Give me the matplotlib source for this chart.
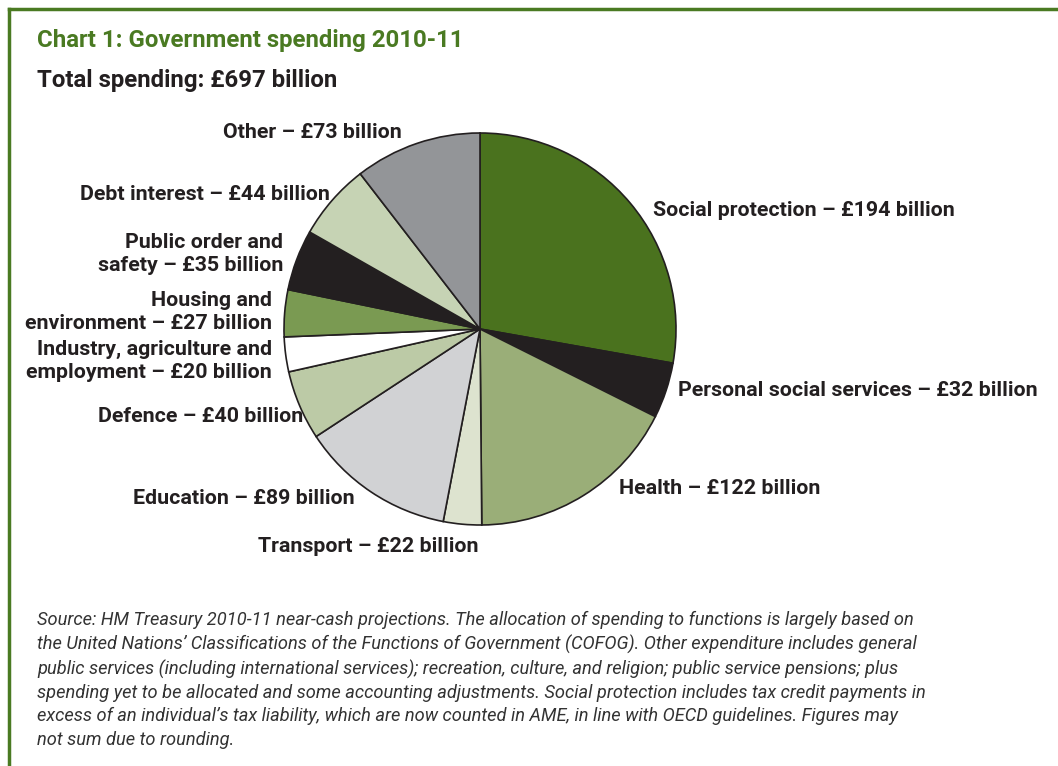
import matplotlib.pyplot as plt
from matplotlib.lines import Line2D

# spending by function, £ billion (clockwise from 12 o'clock)
functions = ['Social protection', 'Personal social services', 'Health', 'Transport',
             'Education', 'Defence', 'Industry, agriculture and employment',
             'Housing and environment', 'Public order and safety', 'Debt interest', 'Other']
spending = [194, 32, 122, 22, 89, 40, 20, 27, 35, 44, 73]
colours = ['#4a721e', '#231f20', '#9aae78', '#dde3cf', '#d1d2d4', '#bccaa6',
           '#ffffff', '#7a9a52', '#231f20', '#c6d3b4', '#939598']
label_text = ['Social protection – £194 billion',
              'Personal social services – £32 billion',
              'Health – £122 billion',
              'Transport – £22 billion',
              'Education – £89 billion',
              'Defence – £40 billion',
              'Industry, agriculture and\nemployment – £20 billion',
              'Housing and\nenvironment – £27 billion',
              'Public order and\nsafety – £35 billion',
              'Debt interest – £44 billion',
              'Other – £73 billion']

green = '#4a7a22'
W, H = 1058, 766
fam = ['Roboto', 'DejaVu Sans']

fig = plt.figure(figsize=(W / 100, H / 100), dpi=100)
ax = fig.add_axes([0, 0, 1, 1])

ax.pie(spending, colors=colours, startangle=90, counterclock=False,
       center=(480, H - 329), radius=196,
       wedgeprops=dict(edgecolor='#231f20', linewidth=1.2))
ax.set_xlim(0, W)
ax.set_ylim(0, H)
ax.set_aspect('auto')
ax.axis('off')

# frame (top and left only)
fig.add_artist(Line2D([9 / W, 1], [1 - 9 / H, 1 - 9 / H], color=green, lw=2.5))
fig.add_artist(Line2D([9 / W, 9 / W], [0, 1 - 9 / H], color=green, lw=2.5))

fig.text(37 / W, 1 - 40 / H, 'Chart 1: Government spending 2010-11', color=green,
         fontsize=17.3, fontweight='bold', family=fam, va='center')
fig.text(37 / W, 1 - 80 / H, 'Total spending: £697 billion', color='#231f20',
         fontsize=17.3, fontweight='bold', family=fam, va='center')

# label anchors in pixels: (x, y, ha)
label_pos = [(653, 210, 'left'), (678, 391, 'left'), (619, 489, 'left'),
             (258, 546, 'left'), (355, 498, 'right'), (303, 417, 'right'),
             (272, 361, 'right'), (272, 312, 'right'), (283, 254, 'right'),
             (330, 194, 'right'), (402, 133, 'right')]
for txt, (x, y, ha) in zip(label_text, label_pos):
    ax.text(x, H - y, txt, ha=ha, va='center', multialignment=ha,
            fontsize=15.4, fontweight='bold', family=fam, color='#231f20',
            linespacing=1.3)

note = ("Source: HM Treasury 2010-11 near-cash projections. The allocation of spending to functions is largely based on\n"
        "the United Nations’ Classifications of the Functions of Government (COFOG). Other expenditure includes general\n"
        "public services (including international services); recreation, culture, and religion; public service pensions; plus\n"
        "spending yet to be allocated and some accounting adjustments. Social protection includes tax credit payments in\n"
        "excess of an individual’s tax liability, which are now counted in AME, in line with OECD guidelines. Figures may\n"
        "not sum due to rounding.")
fig.text(37 / W, 1 - 611 / H, note, fontsize=13.15, style='italic', family=fam,
         color='#333333', va='top', linespacing=1.38)

fig.savefig('out.png', dpi=100)
